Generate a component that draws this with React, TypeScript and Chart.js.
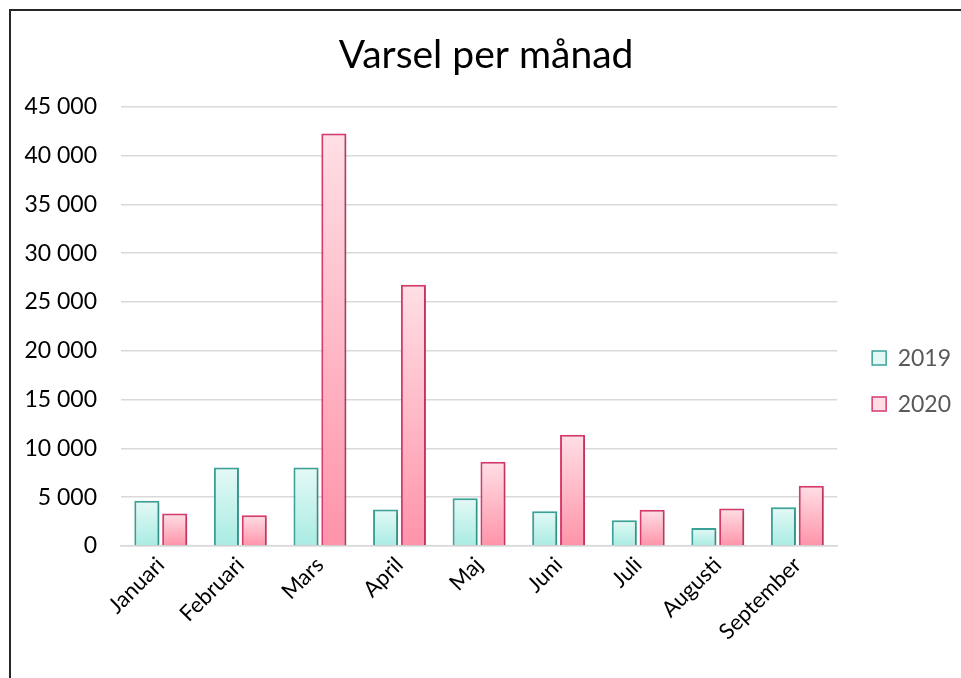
import React, { useEffect, useRef } from "react";
import { Chart, registerables } from "chart.js";

Chart.register(...registerables);

const categories = ["Januari", "Februari", "Mars", "April", "Maj", "Juni", "Juli", "Augusti", "September"];
const seriesNames = ["2019", "2020"];
const values2019 = [4630, 8050, 8050, 3740, 4900, 3560, 2640, 1850, 3970];
const values2020 = [3340, 3150, 42260, 26770, 8620, 11400, 3700, 3840, 6160];
const yMax = 45000;
const yStep = 5000;

const FONT = "Lato, 'Open Sans', sans-serif";

const palette = [
  { top: "#e4f9f6", bottom: "#a9ece3", border: "#3aa398" },
  { top: "#ffdfe5", bottom: "#ff93a9", border: "#d93a6b" },
];

function gradientFill(idx: number) {
  return (ctx: any) => {
    const p = palette[idx];
    const chart = ctx.chart;
    const ys = chart.scales && chart.scales.y;
    if (ctx.type !== "data" || !ys) return p.top;
    const v = ctx.parsed ? ctx.parsed.y : ctx.raw;
    const top = ys.getPixelForValue(v);
    const bottom = ys.getPixelForValue(0);
    if (!isFinite(top) || !isFinite(bottom) || top === bottom) return p.top;
    const g = chart.ctx.createLinearGradient(0, top, 0, bottom);
    g.addColorStop(0, p.top);
    g.addColorStop(1, p.bottom);
    return g;
  };
}

function fmt(v: number) {
  return String(v).replace(/\B(?=(\d{3})+(?!\d))/g, " ");
}

const shadowPlugin = {
  id: "barShadow",
  afterLayout(chart: any) {
    const lg = chart.legend;
    if (lg) {
      lg.left += 12;
      lg.right += 12;
    }
  },
  beforeDatasetsDraw(chart: any) {
    const c = chart.ctx;
    c.save();
    c.shadowColor = "rgba(0,0,0,0.22)";
    c.shadowBlur = 3;
    c.shadowOffsetX = 1.5;
    c.shadowOffsetY = 1.5;
  },
  afterDatasetsDraw(chart: any) {
    chart.ctx.restore();
  },
};

export default function App() {
  const ref = useRef<HTMLCanvasElement>(null);
  useEffect(() => {
    if (!ref.current) return;
    const chart = new Chart(ref.current, {
      type: "bar",
      data: {
        labels: categories,
        datasets: [values2019, values2020].map((vals, i) => ({
          label: seriesNames[i],
          data: vals,
          backgroundColor: gradientFill(i),
          borderColor: palette[i].border,
          borderWidth: 2,
          categoryPercentage: 0.7,
          barPercentage: 0.9,
        })),
      },
      options: {
        animation: false,
        responsive: false,
        maintainAspectRatio: false,
        layout: { padding: { left: 12, right: 12, top: 0, bottom: 27 } },
        plugins: {
          title: {
            display: true,
            text: "Varsel per månad",
            color: "#000000",
            font: { family: FONT, size: 39, weight: "normal" },
            padding: { top: 21, bottom: 28 },
          },
          legend: {
            position: "right",
            title: { display: true, text: "", font: { size: 1 }, padding: { top: 49, bottom: 50 } },
            labels: {
              boxWidth: 14,
              boxHeight: 14,
              padding: 23,
              color: "#595959",
              font: { family: FONT, size: 23 },
              generateLabels: () =>
                seriesNames.map((n, i) => ({
                  text: n,
                  fillStyle: palette[i].top,
                  strokeStyle: palette[i].border,
                  lineWidth: 1.5,
                  fontColor: "#595959",
                  hidden: false,
                  datasetIndex: i,
                })),
            },
          },
          tooltip: { enabled: false },
        },
        scales: {
          x: {
            grid: { display: false, drawTicks: false },
            border: { display: true, color: "#d9d9d9", width: 1.5 },
            ticks: {
              color: "#000000",
              font: { family: FONT, size: 22 },
              maxRotation: 45,
              minRotation: 45,
              padding: 6,
            },
            afterFit: (s: any) => {
              s.paddingLeft = 0;
            },
          },
          y: {
            min: 0,
            max: yMax,
            grid: { color: "#d9d9d9", lineWidth: 1.5, drawTicks: false },
            border: { display: false },
            ticks: {
              stepSize: yStep,
              color: "#000000",
              font: { family: FONT, size: 23 },
              padding: 24,
              callback: (v: any) => fmt(Number(v)),
            },
            afterFit: (s: any) => {
              s.width = 98;
            },
          },
        },
      },
      plugins: [shadowPlugin],
    });
    return () => chart.destroy();
  }, []);
  return (
    <div
      style={{
        position: "absolute",
        left: 9,
        top: 9,
        width: 952,
        height: 669,
        borderLeft: "2px solid #262626",
        borderTop: "2px solid #262626",
        background: "#fff",
      }}
    >
      <canvas ref={ref} width={950} height={667} style={{ display: "block" }} />
    </div>
  );
}
